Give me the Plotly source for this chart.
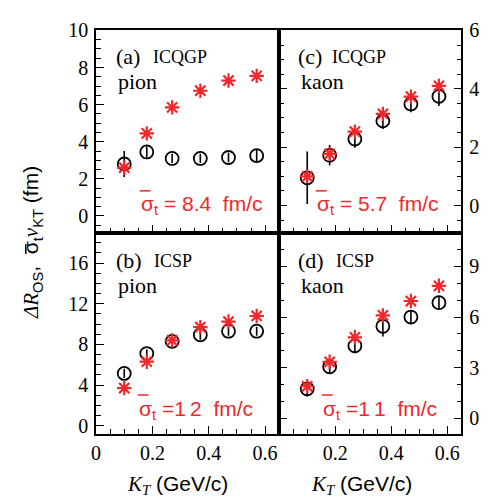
import plotly.graph_objects as go

W, H = 496, 502

kt = [0.10, 0.18, 0.27, 0.37, 0.47, 0.57]

a_circ = [2.8, 3.45, 3.1, 3.1, 3.15, 3.25]
a_err = [0.7, 0.3, 0.25, 0.25, 0.25, 0.3]
a_star = [2.6, 4.45, 5.85, 6.75, 7.3, 7.55]

c_circ = [0.95, 1.72, 2.28, 2.9, 3.48, 3.74]
c_err = [0.9, 0.35, 0.3, 0.28, 0.28, 0.33]
c_star = [1.0, 1.77, 2.53, 3.14, 3.73, 4.1]

b_circ = [5.15, 7.1, 8.3, 8.95, 9.3, 9.3]
b_err = [0.45, 0.4, 0.4, 0.5, 0.45, 0.45]
b_star = [3.7, 6.3, 8.4, 9.7, 10.25, 10.8]

d_circ = [1.75, 3.05, 4.3, 5.45, 6.0, 6.85]
d_err = [0.45, 0.4, 0.45, 0.6, 0.4, 0.4]
d_star = [1.9, 3.35, 4.8, 6.1, 6.95, 7.85]

SERIF = "Liberation Serif"
SANS = "Liberation Sans"
RED = "#f0282a"

def px(x):
    return x / W

def py(y):
    return 1 - y / H

X0, X1, X2 = px(92), px(277), px(461)
Y0, Y1, Y2 = py(435), py(228), py(20)

fig = go.Figure()

panels = [
    ("x", "y", a_circ, a_err, a_star),
    ("x2", "y2", b_circ, b_err, b_star),
    ("x3", "y3", c_circ, c_err, c_star),
    ("x4", "y4", d_circ, d_err, d_star),
]
for xa, ya, circ, err, star in panels:
    fig.add_trace(go.Scatter(
        x=kt, y=circ, xaxis=xa, yaxis=ya, mode="markers",
        marker=dict(symbol="circle-open", size=13, color="black", line=dict(width=1.8, color="black")),
        error_y=dict(type="data", array=err, visible=True, thickness=1.6, width=0, color="black"),
        showlegend=False, cliponaxis=False,
    ))
    fig.add_trace(go.Scatter(
        x=kt, y=star, xaxis=xa, yaxis=ya, mode="markers",
        marker=dict(symbol="asterisk-open", size=12, color=RED, line=dict(width=2.2, color=RED)),
        showlegend=False, cliponaxis=False,
    ))

tickfont = dict(family=SERIF, size=20, color="black")
LW = 1.6

def xax(domain, anchor, labels, tickvals):
    return dict(
        domain=domain, anchor=anchor, range=[0, 0.65],
        showline=True, linecolor="black", linewidth=LW, mirror=True,
        ticks="inside", ticklen=8, tickwidth=1.3, tickcolor="black",
        tickvals=tickvals, ticktext=[("0" if v == 0 else f"{v:.1f}") for v in tickvals],
        showticklabels=labels, tickfont=tickfont,
        minor=dict(dtick=0.05, tick0=0, ticks="inside", ticklen=5, tickwidth=1.3, tickcolor="black"),
        showgrid=False, zeroline=False, fixedrange=True,
    )

def yax(domain, anchor, rng, dtick, mdtick, side, mirror):
    return dict(
        domain=domain, anchor=anchor, range=rng, side=side,
        showline=True, linecolor="black", linewidth=LW, mirror=mirror,
        ticks="inside", ticklen=8, tickwidth=1.3, tickcolor="black",
        dtick=dtick, tick0=0, tickfont=tickfont,
        minor=dict(dtick=mdtick, tick0=0, ticks="inside", ticklen=5, tickwidth=1.3, tickcolor="black"),
        showgrid=False, zeroline=False, fixedrange=True, ticklabelstandoff=2,
    )

fig.update_layout(
    width=W, height=H, margin=dict(l=0, r=0, t=0, b=0),
    paper_bgcolor="white", plot_bgcolor="white",
    font=dict(family=SERIF),
    xaxis=xax([X0, X1], "y", False, [0, 0.2, 0.4, 0.6]),
    yaxis=yax([Y1, Y2], "x", [-0.9, 10], 2, 0.5, "left", True),
    xaxis2=xax([X0, X1], "y2", True, [0, 0.2, 0.4, 0.6]),
    yaxis2=yax([Y0, Y1], "x2", [-0.8, 19], 4, 1, "left", True),
    xaxis3=xax([X1, X2], "y3", False, [0.2, 0.4, 0.6]),
    yaxis3=yax([Y1, Y2], "x3", [-0.93, 6], 2, 0.5, "right", "ticks"),
    xaxis4=xax([X1, X2], "y4", True, [0.2, 0.4, 0.6]),
    yaxis4=yax([Y0, Y1], "x4", [-0.92, 11], 3, 1, "right", "ticks"),
)

ann = []
shapes = []

def text(x, y, s, size, family=SERIF, color="black", xanchor="left", angle=0):
    ann.append(dict(x=px(x), y=py(y), xref="paper", yref="paper", text=s, showarrow=False,
                    xanchor=xanchor, yanchor="middle", textangle=angle,
                    font=dict(family=family, size=size, color=color)))

def bar(x0, y0, x1, y1, color):
    shapes.append(dict(type="line", xref="paper", yref="paper",
                       x0=px(x0), y0=py(y0), x1=px(x1), y1=py(y1),
                       line=dict(color=color, width=1.5)))

# panel labels
labels = [
    (110, 47, "(a)", 147, "ICQGP", 112, 73, "pion", 135, 200, "8.4&nbsp;&nbsp;fm/c", " = "),
    (294, 47, "(c)", 328, "ICQGP", 297, 73, "kaon", 313, 200, "5.7&nbsp;&nbsp;fm/c", " = "),
    (110, 257, "(b)", 148, "ICSP", 112, 282, "pion", 133, 410, "1\u20092&nbsp;&nbsp;fm/c", " ="),
    (294, 257, "(d)", 332, "ICSP", 297, 282, "kaon", 319, 410, "1\u20091&nbsp;&nbsp;fm/c", " ="),
]
for lx, ly, lt, ix, it, kx, ky, kt_, sx, sy, sv, eq in labels:
    text(lx, ly, lt, 22)
    text(ix, ly, it, 18)
    text(kx, ky, kt_, 22)
    text(sx, sy, "σ<sub>t</sub>" + eq + sv, 21, family=SANS, color=RED)
    bar(sx + 1, sy - 15, sx + 12, sy - 15, RED)

# axis titles
ytitle = ("<i>ΔR</i><span style='font-family:Liberation Sans'><sub>OS</sub>,&nbsp;&nbsp;"
          "σ<sub>t</sub></span><i>ν</i><span style='font-family:Liberation Sans'><sub>KT</sub> (fm)</span>")
text(28, 238, ytitle, 21, family=SERIF, xanchor="center", angle=-90)
bar(21, 240, 21, 250, "black")
xtitle = "<i>K</i><sub><i>T</i></sub><span style='font-family:Liberation Sans'> (GeV/c)</span>"
text(174, 488, xtitle, 21, family=SERIF, xanchor="center")
text(360, 488, xtitle, 21, family=SERIF, xanchor="center")

fig.update_layout(annotations=ann, shapes=shapes)

fig.write_html("out.html")
